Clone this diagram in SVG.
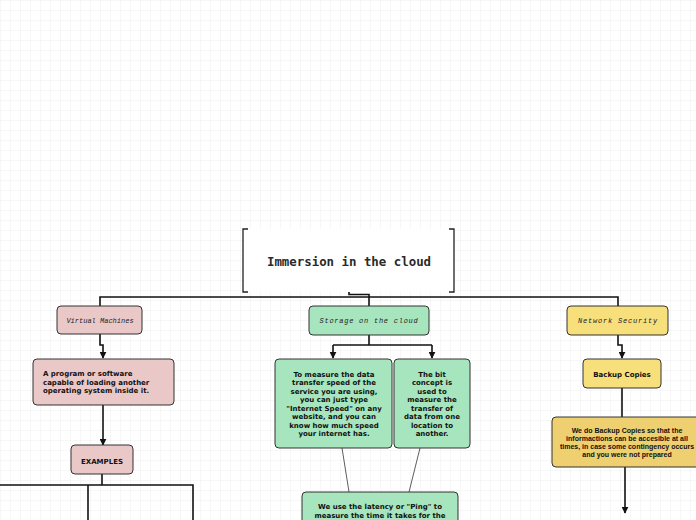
<svg xmlns="http://www.w3.org/2000/svg" width="696" height="520" viewBox="0 0 696 520">
<defs>
<pattern id="grid" x="1" y="1" width="10" height="10" patternUnits="userSpaceOnUse">
<path d="M10 0V10M0 10H10" fill="none" stroke="#eeeeee" stroke-width="1"/>
</pattern>
<marker id="arr" viewBox="0 0 10 10" refX="9" refY="5" markerWidth="7" markerHeight="7" orient="auto" markerUnits="userSpaceOnUse">
<path d="M0 0L10 5L0 10z" fill="#111"/>
</marker>
</defs>
<style>
.conn{fill:none;stroke:#111;stroke-width:1.6}
.thin{fill:none;stroke:#333;stroke-width:0.8}
.pink{fill:#ebc8c8;stroke:#333;stroke-width:1}
.green{fill:#a6e5bd;stroke:#333;stroke-width:1}
.yellow{fill:#f7df7c;stroke:#333;stroke-width:1}
.yellow2{fill:#efd070;stroke:#333;stroke-width:1}
.it{font-family:"Liberation Mono",monospace;font-style:italic;font-size:7px;fill:#222;text-anchor:middle}
.b{font-family:"DejaVu Sans",Verdana,sans-serif;font-weight:bold;font-size:7px;fill:#111}
.n{font-family:"Liberation Sans",Arial,sans-serif;font-weight:bold;font-size:7px;fill:#111}
.c{text-anchor:middle}
</style>
<rect width="696" height="520" fill="#ffffff"/>
<rect width="696" height="520" fill="url(#grid)"/>

<g id="connectors">
<path class="conn" d="M349 292V294.5H369V306"/>
<path class="conn" d="M100 306V297H618V306"/>
<path class="conn" d="M100 334V345H103V358" marker-end="url(#arr)"/>
<path class="conn" d="M103 405V445" marker-end="url(#arr)"/>
<path class="conn" d="M102 474V485"/>
<path class="conn" d="M0 485H193V520"/>
<path class="conn" d="M88 485V520"/>
<path class="conn" d="M369 335V345"/>
<path class="conn" d="M333 345H432"/>
<path class="conn" d="M333 345V358" marker-end="url(#arr)"/>
<path class="conn" d="M432 345V358" marker-end="url(#arr)"/>
<path class="thin" d="M342 448L349 492"/>
<path class="thin" d="M420 448L409 492"/>
<path class="conn" d="M618 335V345H622V358" marker-end="url(#arr)"/>
<path class="conn" d="M622 388V417"/>
<path class="conn" d="M625 467V513" marker-end="url(#arr)"/>
</g>

<g id="title">
<rect x="243" y="229" width="211" height="63" fill="#ffffff"/>
<path d="M248 229H243V292H248M449 229H454V292H449" fill="none" stroke="#222" stroke-width="1.3"/>
<text x="349" y="265.5" font-family="DejaVu Sans Mono,monospace" font-weight="bold" font-size="12.4" fill="#2a2a2a" text-anchor="middle">Immersion in the cloud</text>
</g>

<g id="virtual-machines">
<rect class="pink" x="57" y="306" width="85" height="28" rx="4"/>
<text class="it" x="100" y="322.5">Virtual Machines</text>
</g>

<g id="vm-definition">
<rect class="pink" x="33" y="359" width="141" height="46" rx="4"/>
<text class="b" x="43" y="375.5">A program or software</text>
<text class="b" x="43" y="384.5">capable of loading another</text>
<text class="b" x="43" y="393">operating system inside it.</text>
</g>

<g id="examples">
<rect class="pink" x="71" y="445" width="62" height="29" rx="4"/>
<text class="b c" x="102" y="463.5">EXAMPLES</text>
</g>

<g id="storage">
<rect class="green" x="309" y="306" width="120" height="29" rx="4"/>
<text class="it" x="369" y="322.5" letter-spacing="0.75">Storage on the cloud</text>
</g>

<g id="speed">
<rect class="green" x="275" y="359" width="117" height="89" rx="4"/>
<text class="b c" x="334" y="376.5">To measure the data</text>
<text class="b c" x="334" y="385">transfer speed of the</text>
<text class="b c" x="334" y="393.5">service you are using,</text>
<text class="b c" x="334" y="402">you can just type</text>
<text class="b c" x="334" y="410.5">"Internet Speed" on any</text>
<text class="b c" x="334" y="419">website, and you can</text>
<text class="b c" x="334" y="427.5">know  how much speed</text>
<text class="b c" x="334" y="436">your internet has.</text>
</g>

<g id="bit">
<rect class="green" x="394" y="359" width="76" height="89" rx="4"/>
<text class="b c" x="432" y="376.5">The bit</text>
<text class="b c" x="432" y="385">concept is</text>
<text class="b c" x="432" y="393.5">used to</text>
<text class="b c" x="432" y="402">measure the</text>
<text class="b c" x="432" y="410.5">transfer of</text>
<text class="b c" x="432" y="419">data from one</text>
<text class="b c" x="432" y="427.5">location to</text>
<text class="b c" x="432" y="436">another.</text>
</g>

<g id="latency">
<rect class="green" x="302" y="492" width="156" height="40" rx="4"/>
<text class="b c" x="380" y="509">We use the latency or "Ping" to</text>
<text class="b c" x="380" y="517.5">measure the time it takes for the</text>
</g>

<g id="network-security">
<rect class="yellow" x="567" y="306" width="101" height="29" rx="4"/>
<text class="it" x="618" y="322.5" letter-spacing="0.8">Network Security</text>
</g>

<g id="backup">
<rect class="yellow" x="583" y="359" width="78" height="29" rx="4"/>
<text class="b c" x="622" y="376.5" font-size="6.7">Backup Copies</text>
</g>

<g id="backup-reason">
<rect class="yellow2" x="552" y="417" width="150" height="50" rx="4"/>
<text class="n c" x="627" y="433">We do Backup Copies so that the</text>
<text class="n c" x="627" y="441">informactions can be accesible at all</text>
<text class="n c" x="627" y="449">times, in case some contingency occurs</text>
<text class="n c" x="627" y="457">and you were not prepared</text>
</g>
</svg>
